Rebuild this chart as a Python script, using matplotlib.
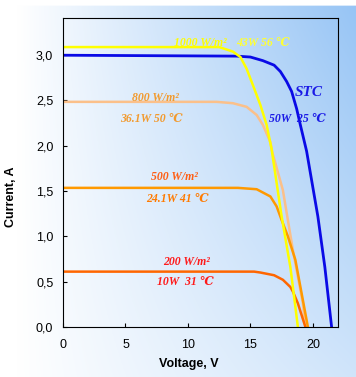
# I-V curves of a PV module at different irradiance / temperature
import numpy as np
import matplotlib
matplotlib.use("Agg")
import matplotlib.pyplot as plt
from matplotlib.ticker import FuncFormatter

# curve data (voltage V, current A)
v_stc = [0, 13.9, 15.0, 16.0, 16.9, 17.4, 17.9, 18.3, 18.7, 19.0, 19.5, 20.4, 20.96, 21.5]
i_stc = [3.0, 2.99, 2.98, 2.94, 2.89, 2.82, 2.71, 2.60, 2.41, 2.23, 1.94, 1.22, 0.66, 0.0]

v_1000 = [0, 12.5, 13.6, 14.2, 14.7, 15.2, 15.8, 16.3, 16.7, 17.5, 18.2, 18.8]
i_1000 = [3.09, 3.09, 3.04, 2.98, 2.85, 2.67, 2.45, 2.23, 1.96, 1.22, 0.66, 0.0]

v_800 = [0, 12.3, 13.6, 14.7, 15.5, 16.0, 16.6, 16.75, 17.6, 18.4, 19.2, 19.4]
i_800 = [2.485, 2.485, 2.47, 2.43, 2.34, 2.23, 2.04, 1.93, 1.51, 0.85, 0.26, 0.0]

v_500 = [0, 14.0, 15.5, 16.6, 17.1, 17.5, 18.0, 18.6, 19.1, 19.6]
i_500 = [1.535, 1.535, 1.52, 1.44, 1.33, 1.18, 1.0, 0.74, 0.37, 0.0]

v_200 = [0, 15.3, 15.8, 16.9, 17.6, 18.2, 18.4, 18.8, 19.4]
i_200 = [0.61, 0.61, 0.60, 0.57, 0.52, 0.44, 0.39, 0.26, 0.0]

fig = plt.figure(figsize=(3.56, 3.77), dpi=100)

# background gradient (white left -> light blue right)
bg = fig.add_axes([0, 0, 1, 1], zorder=-1)
ny, nx = 200, 200
xx, yy = np.meshgrid(np.linspace(0, 1, nx), np.linspace(0, 1, ny))
t = np.clip((xx - 0.05) / 0.95, 0, 1) ** 0.95 * (0.45 + 0.55 * yy)
white = np.array([1.0, 1.0, 1.0])
blue = np.array([150, 196, 245]) / 255
img = white + (blue - white) * t[..., None]
img[yy > 0.986] = 1.0
bg.imshow(img, origin="lower", extent=[0, 1, 0, 1], aspect="auto")
bg.axis("off")

ax = fig.add_axes([0.177, 0.133, 0.772, 0.819])
ax.set_facecolor("none")

ax.plot(v_stc, i_stc, color="#0a0ae6", lw=2.0)
ax.plot(v_800, i_800, color="#fbc08a", lw=1.8)
ax.plot(v_500, i_500, color="#ff9900", lw=1.8)
ax.plot(v_200, i_200, color="#ff6600", lw=1.8)
ax.plot(v_1000, i_1000, color="#ffff00", lw=1.8)

ax.set_xlim(0, 22)
ax.set_ylim(0, 3.41)
ax.set_xticks([0, 5, 10, 15, 20])
ax.set_yticks([0, 0.5, 1.0, 1.5, 2.0, 2.5, 3.0])
ax.yaxis.set_major_formatter(FuncFormatter(lambda y, p: f"{y:.1f}".replace(".", ",")))
ax.tick_params(direction="in", length=3, labelsize=9)
ax.tick_params(axis="x", pad=9)
ax.tick_params(axis="y", pad=7)
for lab in ax.get_xticklabels() + ax.get_yticklabels():
    lab.set_family("Liberation Sans")

ax.set_xlabel("Voltage, V", fontsize=9, fontweight="bold", family="Liberation Sans")
ax.set_ylabel("Current, A", fontsize=9, fontweight="bold", family="Liberation Sans")
ax.xaxis.set_label_coords(0.458, -0.10)
ax.yaxis.set_label_coords(-0.167, 0.42)

serif = ["Liberation Serif", "DejaVu Serif"]
kw = dict(ha="center", va="center", family=serif, style="italic", fontweight="bold", fontsize=8.5)
ax.text(11.0, 3.13, "1000 W/m²", color="#ffff00", **kw)
ax.text(16.0, 3.13, "43W 56 ℃", color="#ffff33", **kw)
ax.text(19.7, 2.59, "STC", color="#1a1ae6", **dict(kw, fontsize=11))
ax.text(18.8, 2.30, "50W  25 ℃", color="#1a1ae6", **kw)
ax.text(7.4, 2.53, "800 W/m²", color="#f29a2e", **kw)
ax.text(7.1, 2.30, "36.1W 50 ℃", color="#f29a2e", **kw)
ax.text(8.9, 1.65, "500 W/m²", color="#ff5e14", **kw)
ax.text(9.2, 1.41, "24.1W 41 ℃", color="#ff7a00", **kw)
ax.text(9.9, 0.72, "200 W/m²", color="#ff1a1a", **kw)
ax.text(9.8, 0.49, "10W  31 ℃", color="#ff1a1a", **kw)

fig.savefig("out.png", dpi=100)
